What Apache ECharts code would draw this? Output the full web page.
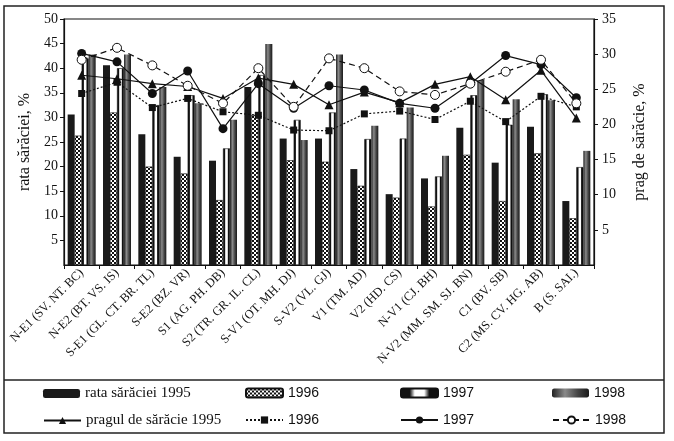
<!DOCTYPE html>
<html>
<head>
<meta charset="utf-8">
<script src="https://cdn.jsdelivr.net/npm/echarts@6/dist/echarts.min.js"></script>
<style>
html,body{margin:0;padding:0;background:#fff;}
#c{width:674px;height:441px;}
</style>
</head>
<body>
<div id="c"></div>
<script>
const categories = ["N-E1 (SV. NT. BC)", "N-E2 (BT. VS. IS)", "S-E1 (GL. CT. BR. TL)", "S-E2 (BZ. VR)", "S1 (AG. PH. DB)", "S2 (TR. GR. IL. CL)", "S-V1 (OT. MH. DJ)", "S-V2 (VL. GJ)", "V1 (TM. AD)", "V2 (HD. CS)", "N-V1 (CJ. BH)", "N-V2 (MM. SM. SJ. BN)", "C1 (BV. SB)", "C2 (MS. CV. HG. AB)", "B (S. SAI.)"];

const rate1995 = [30.6, 40.6, 26.6, 22.0, 21.2, 36.2, 25.7, 25.7, 19.5, 14.4, 17.6, 27.9, 20.8, 28.1, 13.0];
const rate1996 = [26.3, 31.0, 20.0, 18.6, 13.2, 30.5, 21.3, 21.0, 16.1, 13.7, 11.9, 22.4, 13.0, 22.7, 9.5];
const rate1997 = [42.0, 40.0, 32.5, 34.5, 23.7, 38.6, 29.5, 31.0, 25.6, 25.7, 18.0, 34.5, 28.5, 34.7, 19.9];
const rate1998 = [42.8, 42.8, 36.2, 32.9, 29.5, 44.9, 25.4, 42.8, 28.3, 32.0, 22.2, 37.6, 33.7, 33.5, 23.2];

const prag1995 = [27.0, 26.5, 25.8, 25.4, 23.7, 26.6, 25.7, 22.8, 24.6, 23.1, 25.7, 26.8, 23.5, 27.7, 20.9];
const prag1996 = [24.4, 26.0, 22.4, 23.7, 21.8, 21.3, 19.2, 19.1, 21.5, 21.9, 20.7, 23.3, 20.4, 24.0, 22.5];
const prag1997 = [30.1, 28.9, 24.4, 27.6, 19.4, 25.8, 22.3, 25.5, 24.9, 23.0, 22.3, 25.8, 29.8, 28.5, 23.8];
const prag1998 = [29.2, 30.9, 28.4, 25.5, 23.0, 28.0, 22.5, 29.4, 28.0, 24.7, 24.2, 25.8, 27.5, 29.2, 23.0];

const leftTicks = {min: 0, max: 50, interval: 5};
const rightTicks = {min: 0, max: 35, interval: 5};

const legendLabels = {
  r1995: "rata sărăciei 1995", r1996: "1996", r1997: "1997", r1998: "1998",
  p1995: "pragul de sărăcie 1995", p1996: "1996", p1997: "1997", p1998: "1998"
};

// patterns
function checker() {
  const c = document.createElement('canvas');
  c.width = 4; c.height = 4;
  const g = c.getContext('2d');
  g.fillStyle = '#fff'; g.fillRect(0, 0, 4, 4);
  g.fillStyle = '#111';
  g.fillRect(0, 0, 2, 2); g.fillRect(2, 2, 2, 2);
  return {image: c, repeat: 'repeat'};
}
const lg = (stops) => new echarts.graphic.LinearGradient(0, 0, 1, 0, stops.map(s => ({offset: s[0], color: s[1]})));

const serif = "'Liberation Serif', 'DejaVu Serif', serif";
const sans = "'Liberation Sans', Arial, sans-serif";

const chart = echarts.init(document.getElementById('c'), null, {renderer: 'canvas'});

const barBase = {type: 'bar', barWidth: 7, barGap: '0%', yAxisIndex: 0};
const lineBase = {type: 'line', yAxisIndex: 1, symbolSize: 8, z: 5,
  lineStyle: {color: '#111', width: 1.2}, itemStyle: {color: '#111'}};

const legendPos = [
  ['r1995', 43, 386, serif], ['r1996', 245, 386, sans], ['r1997', 400, 386, sans], ['r1998', 552, 386, sans],
  ['p1995', 43, 413, serif], ['p1996', 245, 413, sans], ['p1997', 400, 413, sans], ['p1998', 552, 413, sans]
];

const option = {
  backgroundColor: '#fff',
  animation: false,
  grid: {left: 64, right: 80, top: 19, bottom: 176, show: true, borderColor: '#111', borderWidth: 1.2, backgroundColor: 'transparent'},
  legend: legendPos.map(p => ({
    left: p[1], top: p[2], orient: 'horizontal', itemWidth: 37, itemHeight: 9,
    padding: 0, data: [p[0]], selectedMode: false,
    formatter: n => legendLabels[n],
    textStyle: {fontFamily: p[3], fontSize: p[3] === serif ? 15 : 14, color: '#111'}
  })),
  xAxis: {
    type: 'category', data: categories, boundaryGap: true,
    axisLine: {lineStyle: {color: '#111', width: 1.2}},
    axisTick: {show: true, length: 4, lineStyle: {color: '#111'}},
    axisLabel: {rotate: 45, interval: 0, fontFamily: serif, fontSize: 12.5, color: '#111', margin: 6}
  },
  yAxis: [
    {
      type: 'value', min: leftTicks.min, max: leftTicks.max, interval: leftTicks.interval, position: 'left',
      name: 'rata sărăciei, %', nameLocation: 'middle', nameGap: 29,
      nameTextStyle: {fontFamily: serif, fontSize: 16, color: '#111'},
      splitLine: {show: false},
      axisLine: {show: true, lineStyle: {color: '#111', width: 1.2}},
      axisTick: {show: true, length: 4, lineStyle: {color: '#111'}},
      axisLabel: {showMinLabel: false, fontFamily: serif, fontSize: 14, color: '#111', margin: 6}
    },
    {
      type: 'value', min: rightTicks.min, max: rightTicks.max, interval: rightTicks.interval, position: 'right',
      name: 'prag de sărăcie, %', nameLocation: 'middle', nameGap: 38, nameRotate: 90,
      nameTextStyle: {fontFamily: serif, fontSize: 16, color: '#111'},
      splitLine: {show: false},
      axisLine: {show: true, lineStyle: {color: '#111', width: 1.2}},
      axisTick: {show: true, length: 4, lineStyle: {color: '#111'}},
      axisLabel: {showMinLabel: false, fontFamily: serif, fontSize: 14, color: '#111', margin: 8}
    }
  ],
  series: [
    Object.assign({}, barBase, {name: 'r1995', data: rate1995, itemStyle: {color: '#1a1a1a'}}),
    Object.assign({}, barBase, {name: 'r1996', data: rate1996, itemStyle: {color: checker(), borderColor: '#111', borderWidth: 0.6}}),
    Object.assign({}, barBase, {name: 'r1997', data: rate1997, itemStyle: {
      color: lg([[0, '#111'], [0.25, '#111'], [0.38, '#fff'], [0.62, '#fff'], [0.75, '#111'], [1, '#111']]),
      borderColor: '#111', borderWidth: 0.6}}),
    Object.assign({}, barBase, {name: 'r1998', data: rate1998, itemStyle: {
      color: lg([[0, '#222'], [0.35, '#8a8a8a'], [0.7, '#444'], [1, '#1a1a1a']])}}),
    Object.assign({}, lineBase, {name: 'p1995', data: prag1995, symbol: 'triangle', symbolSize: 9}),
    Object.assign({}, lineBase, {name: 'p1996', data: prag1996, symbol: 'rect', symbolSize: 7,
      lineStyle: {color: '#111', width: 1.2, type: [2, 2]}}),
    Object.assign({}, lineBase, {name: 'p1997', data: prag1997, symbol: 'circle', symbolSize: 9}),
    Object.assign({}, lineBase, {name: 'p1998', data: prag1998, symbol: 'circle', symbolSize: 9,
      lineStyle: {color: '#111', width: 1.2, type: [6, 4]},
      itemStyle: {color: '#fff', borderColor: '#111', borderWidth: 1}})
  ],
  graphic: [
    {type: 'rect', shape: {x: 4, y: 6, width: 660, height: 427}, style: {fill: 'none', stroke: '#222', lineWidth: 1.5}, silent: true},
    {type: 'line', shape: {x1: 4, y1: 380, x2: 664, y2: 380}, style: {stroke: '#222', lineWidth: 1.5}, silent: true}
  ]
};
chart.setOption(option);
</script>
</body>
</html>
